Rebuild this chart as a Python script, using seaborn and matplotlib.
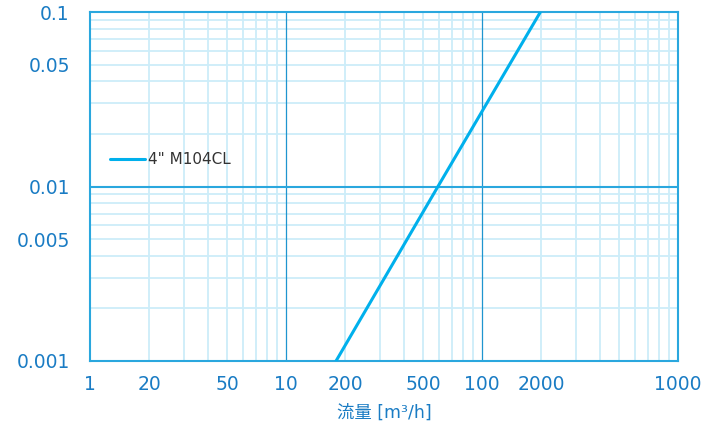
import matplotlib
matplotlib.use("Agg")
import matplotlib.pyplot as plt
import seaborn as sns
import pandas as pd
import numpy as np

# data
flow = [18.0, 59.6, 198.6]
loss = [0.001, 0.01, 0.1]
series_name = '4" M104CL'
xtick_pos = [1, 2, 5, 10, 20, 50, 100, 200, 1000]
xtick_labels = ["1", "20", "50", "10", "200", "500", "100", "2000", "1000"]
ytick_pos = [0.001, 0.005, 0.01, 0.05, 0.1]
ytick_labels = ["0.001", "0.005", "0.01", "0.05", "0.1"]
xlabel = "流量 [m³/h]"

sns.set_style("white")
plt.rcParams['font.family'] = 'DejaVu Sans'

TICK_C = "#1a7cc4"
FRAME_C = "#2aa7de"
MAJ_C = "#1f95cf"
MIN_C = "#cdedf9"
LINE_C = "#00b0ec"

fig = plt.figure(figsize=(7.16, 4.28), dpi=100)
ax = fig.add_axes([90/716, 1-361/428, (678-90)/716, (361-12)/428])

df = pd.DataFrame({"flow": flow, "loss": loss, "name": series_name})
sns.lineplot(data=df, x="flow", y="loss", ax=ax, color=LINE_C, lw=2.2,
             label=series_name, zorder=5)

ax.set_xscale("log")
ax.set_yscale("log")
ax.set_xlim(1, 1000)
ax.set_ylim(0.001, 0.1)

# grid
ax.grid(False)
for d in [1, 10, 100]:
    for m in range(2, 10):
        ax.axvline(d*m, color=MIN_C, lw=1.3, zorder=1)
for d in [0.001, 0.01]:
    for m in range(2, 10):
        ax.axhline(d*m, color=MIN_C, lw=1.3, zorder=1)
for v in [10, 100]:
    ax.axvline(v, color=MAJ_C, lw=0.9, zorder=2)
ax.axhline(0.01, color=FRAME_C, lw=1.5, zorder=2)

for s in ax.spines.values():
    s.set_color(FRAME_C)
    s.set_linewidth(1.5)

ax.set_xticks(xtick_pos)
ax.set_xticklabels(xtick_labels)
ax.set_yticks(ytick_pos)
ax.set_yticklabels(ytick_labels)
ax.minorticks_off()
ax.tick_params(axis="both", length=0, labelsize=13.5, labelcolor=TICK_C)
ax.tick_params(axis="y", pad=14.5)
ax.tick_params(axis="x", pad=10)

ax.set_xlabel(xlabel, fontsize=12.5, color=TICK_C, labelpad=7,
              family=['DejaVu Sans', 'Noto Sans CJK JP'])
ax.set_ylabel("")

leg = ax.legend(loc="center left", bbox_to_anchor=(20/588, (361-160)/349),
                frameon=False, handlelength=2.3,
                handletextpad=0.2, borderpad=0, borderaxespad=0,
                prop={"family": "DejaVu Sans", "size": 11})
for t in leg.get_texts():
    t.set_color("#333333")

fig.savefig("out.png", dpi=100)
